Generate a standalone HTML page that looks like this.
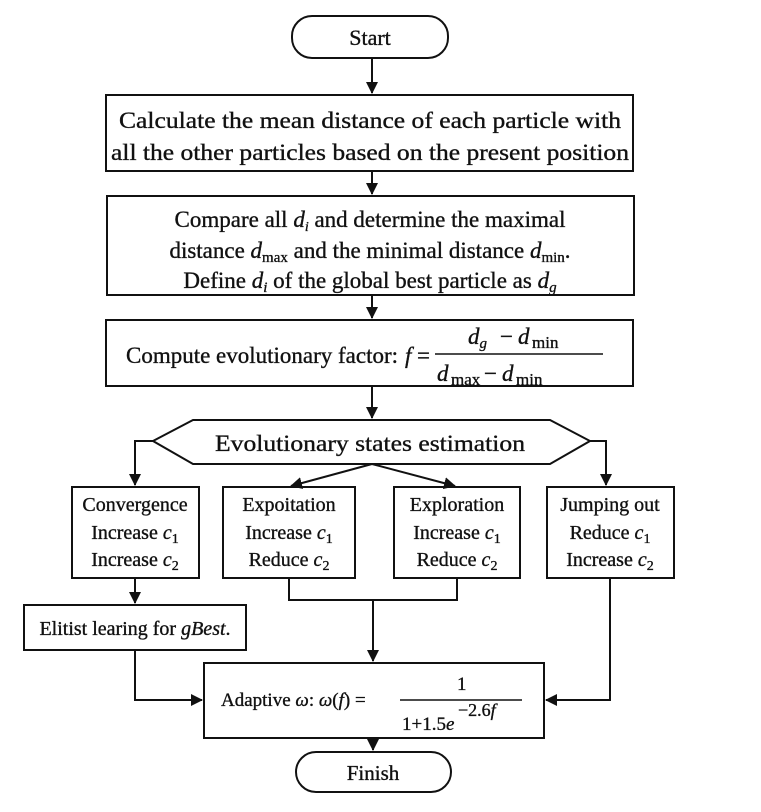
<!DOCTYPE html>
<html><head><meta charset="utf-8"><style>
html,body{margin:0;padding:0;background:#fff;}
svg{display:block;}
text{font-family:"Liberation Serif",serif;fill:#111;stroke:#111;stroke-width:0.35;}
</style></head><body>
<svg width="761" height="812" viewBox="0 0 761 812" xmlns="http://www.w3.org/2000/svg">
<defs><marker id="a" markerWidth="12" markerHeight="12" refX="11" refY="6" orient="auto" markerUnits="userSpaceOnUse"><path d="M0,0 L12,6 L0,12 z" fill="#111"/></marker></defs>
<g fill="none" stroke="#111" stroke-width="2">
<rect x="292" y="16" width="156" height="42" rx="20"/>
<rect x="106" y="95" width="527" height="76"/>
<rect x="107" y="196" width="527" height="99"/>
<rect x="106" y="320" width="527" height="66"/>
<polygon points="153,441 193,420 550,420 590,441 550,464 193,464"/>
<rect x="72" y="487" width="127" height="91"/>
<rect x="223" y="487" width="132" height="91"/>
<rect x="394" y="487" width="126" height="91"/>
<rect x="547" y="487" width="127" height="91"/>
<rect x="24" y="605" width="222" height="45"/>
<rect x="204" y="663" width="340" height="75"/>
<rect x="296" y="752" width="155" height="40" rx="20"/>
<path d="M372,58 V93" marker-end="url(#a)"/>
<path d="M372,171 V194" marker-end="url(#a)"/>
<path d="M372,295 V318" marker-end="url(#a)"/>
<path d="M372,386 V418" marker-end="url(#a)"/>
<path d="M153,441 H135 V485" marker-end="url(#a)"/>
<path d="M590,441 H606 V485" marker-end="url(#a)"/>
<path d="M372,464 L291,486" marker-end="url(#a)"/>
<path d="M372,464 L455,486" marker-end="url(#a)"/>
<path d="M135,578 V603" marker-end="url(#a)"/>
<path d="M289,578 V600 H457 V578"/>
<path d="M373,600 V661" marker-end="url(#a)"/>
<path d="M135,650 V700 H202" marker-end="url(#a)"/>
<path d="M610,578 V700 H546" marker-end="url(#a)"/>
<path d="M373,738 V750" marker-end="url(#a)"/>
</g>
<g font-size="23" text-anchor="middle">
<text x="370" y="45" font-size="22">Start</text>
<text x="370" y="128" textLength="502" lengthAdjust="spacingAndGlyphs">Calculate the mean distance of each particle with</text>
<text x="370" y="160" textLength="518" lengthAdjust="spacingAndGlyphs">all the other particles based on the present position</text>
<text x="370" y="227">Compare all <tspan font-style="italic">d<tspan font-size="14" dy="4">i</tspan></tspan><tspan dy="-4"> and determine the maximal</tspan></text>
<text x="370" y="258">distance <tspan font-style="italic">d</tspan><tspan font-size="15" dy="4">max</tspan><tspan dy="-4"> and the minimal distance </tspan><tspan font-style="italic">d</tspan><tspan font-size="15" dy="4">min</tspan><tspan dy="-4">.</tspan></text>
<text x="370" y="288">Define <tspan font-style="italic">d</tspan><tspan font-style="italic" font-size="15" dy="4">i</tspan><tspan dy="-4"> of the global best particle as </tspan><tspan font-style="italic">d</tspan><tspan font-style="italic" font-size="15" dy="4">g</tspan></text>
<text x="370" y="451" textLength="310" lengthAdjust="spacingAndGlyphs">Evolutionary states estimation</text>
<text x="373" y="780" font-size="21">Finish</text>
</g>
<g font-size="23">
<text x="126" y="363" textLength="272" lengthAdjust="spacingAndGlyphs">Compute evolutionary factor:</text>
<text x="405" y="363" font-style="italic">f</text><text x="417" y="363">=</text>
<line x1="435" y1="354" x2="603" y2="354" stroke="#111" stroke-width="1.5"/>
<text x="468" y="344" font-style="italic">d<tspan font-size="15" dy="4">g</tspan></text><text x="500" y="344">−</text><text x="518" y="344" font-style="italic">d</text><text x="532" y="348" font-size="17">min</text>
<text x="437" y="381" font-style="italic">d</text><text x="451" y="385" font-size="17">max</text><text x="484" y="381">−</text><text x="502" y="381" font-style="italic">d</text><text x="516" y="385" font-size="17">min</text>
</g>
<g font-size="20" text-anchor="middle">
<text x="135" y="511">Convergence</text>
<text x="135" y="539">Increase <tspan font-style="italic">c</tspan><tspan font-size="14" dy="4">1</tspan></text>
<text x="135" y="566">Increase <tspan font-style="italic">c</tspan><tspan font-size="14" dy="4">2</tspan></text>
<text x="289" y="511">Expoitation</text>
<text x="289" y="539">Increase <tspan font-style="italic">c</tspan><tspan font-size="14" dy="4">1</tspan></text>
<text x="289" y="566">Reduce <tspan font-style="italic">c</tspan><tspan font-size="14" dy="4">2</tspan></text>
<text x="457" y="511">Exploration</text>
<text x="457" y="539">Increase <tspan font-style="italic">c</tspan><tspan font-size="14" dy="4">1</tspan></text>
<text x="457" y="566">Reduce  <tspan font-style="italic">c</tspan><tspan font-size="14" dy="4">2</tspan></text>
<text x="610" y="511">Jumping out</text>
<text x="610" y="539">Reduce  <tspan font-style="italic">c</tspan><tspan font-size="14" dy="4">1</tspan></text>
<text x="610" y="566">Increase <tspan font-style="italic">c</tspan><tspan font-size="14" dy="4">2</tspan></text>
<text x="135" y="635">Elitist learing for <tspan font-style="italic">gBest</tspan>.</text>
</g>
<g font-size="19">
<text x="221" y="706">Adaptive <tspan font-style="italic">ω</tspan>: <tspan font-style="italic">ω</tspan>(<tspan font-style="italic">f</tspan>) =</text>
<line x1="400" y1="700" x2="522" y2="700" stroke="#111" stroke-width="1.5"/>
<text x="457" y="690">1</text>
<text x="402" y="730">1+1.5<tspan font-style="italic">e</tspan></text>
<text x="458" y="716" font-size="18">−2.6<tspan font-style="italic">f</tspan></text>
</g>
</svg>
</body></html>
